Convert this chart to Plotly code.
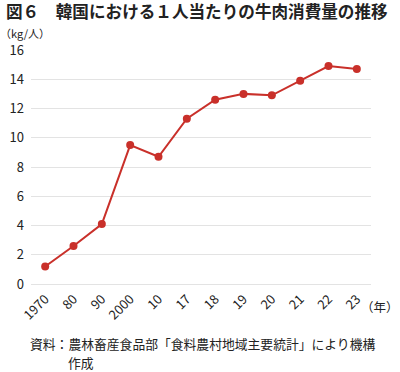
import plotly.graph_objects as go

years = ["1970", "80", "90", "2000", "10", "17", "18", "19", "20", "21", "22", "23"]
consumption = [1.2, 2.6, 4.1, 9.5, 8.7, 11.3, 12.6, 13.0, 12.9, 13.9, 14.9, 14.7]
y_ticks = [0, 2, 4, 6, 8, 10, 12, 14, 16]

FONT = "Noto Sans CJK JP"
RED = "#c9302a"
W, H = 400, 372
l, r, t, b = 31, 29, 50, 88
pw, ph = W - l - r, H - t - b
def px(xp): return (xp - l) / pw
def py(yp): return (H - b - yp) / ph

fig = go.Figure()
fig.add_trace(go.Scatter(
    x=years, y=consumption, mode="lines+markers",
    line=dict(color=RED, width=2),
    marker=dict(color=RED, size=8),
    showlegend=False, hoverinfo="skip",
))

def ann(text, x, y, size, xanchor="left", yanchor="middle"):
    return dict(text=text, x=px(x), y=py(y), xref="paper", yref="paper",
                xanchor=xanchor, yanchor=yanchor, showarrow=False,
                font=dict(size=size, color="#222"))

fig.update_layout(
    width=W, height=H,
    margin=dict(l=l, r=r, t=t, b=b, autoexpand=False),
    paper_bgcolor="white", plot_bgcolor="white",
    font=dict(family=FONT, color="#222", size=12),
    xaxis=dict(
        type="category", tickangle=-45, showgrid=False, showline=False,
        ticks="", tickfont=dict(size=13, color="#222"), range=[-0.5, 11.5],
        automargin=False, ticklabelstandoff=4,
    ),
    yaxis=dict(
        range=[0, 16], tickvals=y_ticks, showgrid=True, gridcolor="#e3e3e3",
        gridwidth=1, zeroline=True, zerolinecolor="#e3e3e3", zerolinewidth=1,
        ticks="", tickfont=dict(size=13, color="#222"), ticklabelstandoff=6,
        automargin=False,
    ),
    annotations=[
        ann("<b>図６　韓国における１人当たりの牛肉消費量の推移</b>", 4, 11, 16.6),
        ann("（kg/人）", -2, 33, 11),
        ann("（年）", 401, 306, 12.5, xanchor="right"),
        ann("資料：農林畜産食品部「食料農村地域主要統計」により機構", 28, 343, 12.8),
        ann("作成", 66, 362, 12.8),
    ],
)

fig.write_html("out.html", config={"displayModeBar": False},
               post_script="document.body.style.margin='0';document.body.style.overflow='hidden';")
